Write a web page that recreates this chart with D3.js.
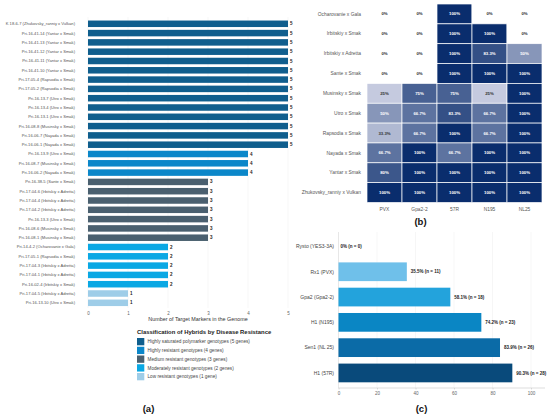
<!DOCTYPE html>
<html>
<head>
<meta charset="utf-8">
<script src="https://cdn.jsdelivr.net/npm/d3@7"></script>
<style>
  body { margin: 0; background: #fff; }
  text { font-family: "Liberation Sans", Arial, sans-serif; }
</style>
</head>
<body>
<div id="container"></div>
<script>
let w = 550;
let h = 417;

// ---- panel (a) data: hybrids and number of target markers
let hybrids = [
  "K 18-6-7 (Zhukovsky_ranniy x Vulkan)",
  "Pri-16-41-14 (Yantar x Smak)",
  "Pri-16-41-13 (Yantar x Smak)",
  "Pri-16-41-12 (Yantar x Smak)",
  "Pri-16-41-11 (Yantar x Smak)",
  "Pri-16-41-10 (Yantar x Smak)",
  "Pri-17-05-4 (Rapsodia x Smak)",
  "Pri-17-05-2 (Rapsodia x Smak)",
  "Pri-16-13-7 (Utro x Smak)",
  "Pri-16-13-4 (Utro x Smak)",
  "Pri-16-13-1 (Utro x Smak)",
  "Pri-16-08-8 (Musinsky x Smak)",
  "Pri-16-06-7 (Nayada x Smak)",
  "Pri-16-06-1 (Nayada x Smak)",
  "Pri-16-13-9 (Utro x Smak)",
  "Pri-16-08-7 (Musinsky x Smak)",
  "Pri-16-06-2 (Nayada x Smak)",
  "Pri-16-38-5 (Sante x Smak)",
  "Pri-17-04-6 (Irbitskiy x Adretta)",
  "Pri-17-04-4 (Irbitskiy x Adretta)",
  "Pri-17-04-2 (Irbitskiy x Adretta)",
  "Pri-16-13-3 (Utro x Smak)",
  "Pri-16-08-6 (Musinsky x Smak)",
  "Pri-16-08-1 (Musinsky x Smak)",
  "Pri-14-4-2 (Ocharovanie x Gala)",
  "Pri-17-05-1 (Rapsodia x Smak)",
  "Pri-17-04-3 (Irbitskiy x Adretta)",
  "Pri-17-04-1 (Irbitskiy x Adretta)",
  "Pri-16-02-4 (Irbitskiy x Smak)",
  "Pri-17-04-5 (Irbitskiy x Adretta)",
  "Pri-16-13-10 (Utro x Smak)"
];
let markerCounts = [5,5,5,5,5,5,5,5,5,5,5,5,5,5,4,4,4,3,3,3,3,3,3,3,2,2,2,2,2,1,1];

let countTicks = [0, 1, 2, 3, 4, 5];

let legendValues = [5, 4, 3, 2, 1];
let legendLabels = [
  "Highly saturated polymarker genotypes (5 genes)",
  "Highly resistant genotypes (4 genes)",
  "Medium resistant genotypes (3 genes)",
  "Moderately resistant genotypes (2 genes)",
  "Low resistant genotypes (1 gene)"
];

// ---- panel (b) data: share of hybrids carrying each marker, per combination
let combinations = [
  "Ocharovanie x Gala",
  "Irbitskiy x Smak",
  "Irbitskiy x Adretta",
  "Sante x Smak",
  "Musinsky x Smak",
  "Utro x Smak",
  "Rapsodia x Smak",
  "Nayada x Smak",
  "Yantar x Smak",
  "Zhukovsky_ranniy x Vulkan"
];
let markers = ["PVX", "Gpa2-2", "57R", "N195", "NL25"];
let pvxShare   = [0, 0, 0, 0, 25, 50, 33.3, 66.7, 80, 100];
let gpa2Share  = [0, 0, 0, 0, 75, 66.7, 66.7, 100, 100, 100];
let r57Share   = [100, 100, 100, 100, 75, 83.3, 100, 66.7, 100, 100];
let n195Share  = [0, 100, 83.3, 100, 25, 66.7, 66.7, 100, 100, 100];
let nl25Share  = [0, 0, 50, 100, 100, 100, 100, 100, 100, 100];

// ---- panel (c) data: frequency of each gene among hybrids
let genes = ["Rysto (YES3-3A)", "Rx1 (PVX)", "Gpa2 (Gpa2-2)", "H1 (N195)", "Sen1 (NL 25)", "H1 (57R)"];
let genePercent = [0, 35.5, 58.1, 74.2, 83.9, 90.3];
let geneCount = [0, 11, 18, 23, 26, 28];
let percentTicks = [0, 20, 40, 60, 80, 100];

let viz = d3.select("#container")
  .append("svg")
    .attr("width", w)
    .attr("height", h)
    .style("background-color", "white");

// =================== panel (a) ===================
let countColor = d3.scaleOrdinal()
  .domain([5, 4, 3, 2, 1])
  .range(["#0f5e8d", "#0b87c9", "#4a606f", "#0aa8e4", "#9ecde8"]);

let xA = d3.scaleLinear().domain([0, 5]).range([88, 288]);
let yA = d3.scaleBand().domain(hybrids).range([19.6, 307]).paddingInner(0.3).paddingOuter(0.1);

let dataA = hybrids.map(function(d, i){
  return {name: d, value: markerCounts[i]};
});

let gA = viz.append("g").attr("class", "panelA");

gA.selectAll(".gridA").data(countTicks).enter()
  .append("line")
    .attr("x1", function(d){ return xA(d); })
    .attr("x2", function(d){ return xA(d); })
    .attr("y1", 17)
    .attr("y2", 308)
    .attr("stroke", "#ececec")
    .attr("stroke-width", 0.5);

gA.selectAll(".barA").data(dataA).enter()
  .append("rect")
    .attr("x", xA(0))
    .attr("y", function(d){ return yA(d.name); })
    .attr("width", function(d){ return xA(d.value) - xA(0); })
    .attr("height", yA.bandwidth())
    .attr("fill", function(d){ return countColor(d.value); });

gA.selectAll(".valA").data(dataA).enter()
  .append("text")
    .text(function(d){ return d.value; })
    .attr("x", function(d){ return xA(d.value) + 2; })
    .attr("y", function(d){ return yA(d.name) + yA.bandwidth() / 2; })
    .attr("dy", "0.35em")
    .attr("font-size", 4.5)
    .attr("font-weight", "bold")
    .attr("fill", "#222");

gA.selectAll(".labA").data(dataA).enter()
  .append("text")
    .text(function(d){ return d.name; })
    .attr("x", 75)
    .attr("y", function(d){ return yA(d.name) + yA.bandwidth() / 2; })
    .attr("dy", "0.35em")
    .attr("text-anchor", "end")
    .attr("font-size", 4.1)
    .attr("fill", "#555");

let xAxisA = d3.axisBottom(xA).tickValues(countTicks).tickFormat(d3.format("d")).tickSize(0).tickPadding(3);
let xAxisGroupA = gA.append("g").attr("transform", "translate(0, 309)").call(xAxisA);
xAxisGroupA.select(".domain").remove();
xAxisGroupA.selectAll("text").attr("font-size", 4.5).attr("fill", "#666").attr("font-family", "Liberation Sans, Arial, sans-serif");

gA.append("text")
  .text("Number of Target Markers in the Genome")
  .attr("x", 198)
  .attr("y", 321)
  .attr("text-anchor", "middle")
  .attr("font-size", 5.4)
  .attr("fill", "#333");

// legend
gA.append("text")
  .text("Classification of Hybrids by Disease Resistance")
  .attr("x", 137)
  .attr("y", 334.3)
  .attr("font-size", 5.9)
  .attr("font-weight", "bold")
  .attr("fill", "#222");

let legend = gA.selectAll(".legendA").data(legendValues).enter()
  .append("g")
    .attr("transform", function(d, i){ return "translate(137, " + (338 + i * 8.75) + ")"; });

legend.append("rect")
  .attr("width", 7.3)
  .attr("height", 7.3)
  .attr("fill", function(d){ return countColor(d); });

legend.append("text")
  .text(function(d, i){ return legendLabels[i]; })
  .attr("x", 10.5)
  .attr("y", 3.7)
  .attr("dy", "0.35em")
  .attr("font-size", 4.7)
  .attr("fill", "#444");

// =================== panel (b) ===================
let shareColumns = [pvxShare, gpa2Share, r57Share, n195Share, nl25Share];
let dataB = [];
combinations.forEach(function(c, i){
  markers.forEach(function(m, j){
    dataB.push({row: c, col: m, value: shareColumns[j][i]});
  });
});

let xB = d3.scaleBand().domain(markers).range([367, 542]);
let yB = d3.scaleBand().domain(combinations).range([4, 202.5]);
let heat = d3.scaleLinear().domain([25, 100]).range(["#c5cadf", "#0a2d6d"]).interpolate(d3.interpolateRgb);

function fmtPct(v){
  return (Math.round(v * 10) / 10) + "%";
}

let gB = viz.append("g").attr("class", "panelB");

gB.selectAll(".cell").data(dataB).enter()
  .append("rect")
    .attr("x", function(d){ return xB(d.col); })
    .attr("y", function(d){ return yB(d.row); })
    .attr("width", xB.bandwidth())
    .attr("height", yB.bandwidth())
    .attr("fill", function(d){ return d.value == 0 ? "#ffffff" : heat(d.value); })
    .attr("stroke", "#ffffff")
    .attr("stroke-width", 0.7);

gB.selectAll(".cellText").data(dataB).enter()
  .append("text")
    .text(function(d){ return fmtPct(d.value); })
    .attr("x", function(d){ return xB(d.col) + xB.bandwidth() / 2; })
    .attr("y", function(d){ return yB(d.row) + yB.bandwidth() / 2; })
    .attr("dy", "0.35em")
    .attr("text-anchor", "middle")
    .attr("font-size", 4.3)
    .attr("font-weight", "bold")
    .attr("fill", function(d){
      if(d.value < 40){
        return "#333";
      }else{
        return "#ffffff";
      }
    });

gB.selectAll(".rowLab").data(combinations).enter()
  .append("text")
    .text(function(d){ return d; })
    .attr("x", 361)
    .attr("y", function(d){ return yB(d) + yB.bandwidth() / 2; })
    .attr("dy", "0.35em")
    .attr("text-anchor", "end")
    .attr("font-size", 4.9)
    .attr("fill", "#555");

gB.selectAll(".colLab").data(markers).enter()
  .append("text")
    .text(function(d){ return d; })
    .attr("x", function(d){ return xB(d) + xB.bandwidth() / 2; })
    .attr("y", 209)
    .attr("dy", "0.35em")
    .attr("text-anchor", "middle")
    .attr("font-size", 4.9)
    .attr("fill", "#555");

// =================== panel (c) ===================
let dataC = genes.map(function(g, i){
  return {name: g, pct: genePercent[i], n: geneCount[i]};
});

let xC = d3.scaleLinear().domain([0, 100]).range([338.5, 531]);
let yC = d3.scaleBand().domain(genes).range([233.8, 385.6]).paddingInner(0.26).paddingOuter(0.13);
let geneColor = d3.scaleOrdinal().domain(genes)
  .range(["#d6ecf8", "#6fc0ea", "#23a3dc", "#0a86c4", "#0b6ba7", "#094a7b"]);

let gC = viz.append("g").attr("class", "panelC");

gC.selectAll(".gridC").data(percentTicks).enter()
  .append("line")
    .attr("x1", function(d){ return xC(d); })
    .attr("x2", function(d){ return xC(d); })
    .attr("y1", 232)
    .attr("y2", 388)
    .attr("stroke", function(d){ return d == 0 ? "#cfcfcf" : "#ececec"; })
    .attr("stroke-width", 0.5);

gC.selectAll(".barC").data(dataC).enter()
  .append("rect")
    .attr("x", xC(0))
    .attr("y", function(d){ return yC(d.name); })
    .attr("width", function(d){ return xC(d.pct) - xC(0); })
    .attr("height", yC.bandwidth())
    .attr("fill", function(d){ return geneColor(d.name); });

gC.selectAll(".valC").data(dataC).enter()
  .append("text")
    .text(function(d){ return d.pct + "% (n = " + d.n + ")"; })
    .attr("x", function(d){ return xC(d.pct) + (d.pct == 0 ? 2 : 4); })
    .attr("y", function(d){ return yC(d.name) + yC.bandwidth() / 2; })
    .attr("dy", "0.35em")
    .attr("font-size", 4.5)
    .attr("font-weight", "bold")
    .attr("fill", "#222");

gC.selectAll(".labC").data(dataC).enter()
  .append("text")
    .text(function(d){ return d.name; })
    .attr("x", 334)
    .attr("y", function(d){ return yC(d.name) + yC.bandwidth() / 2; })
    .attr("dy", "0.35em")
    .attr("text-anchor", "end")
    .attr("font-size", 5)
    .attr("fill", "#444");

let xAxisC = d3.axisBottom(xC).tickValues(percentTicks).tickFormat(d3.format("d")).tickSize(1.5).tickPadding(2.5).tickSizeOuter(0);
let xAxisGroupC = gC.append("g").attr("transform", "translate(0, 388)").call(xAxisC);
xAxisGroupC.select(".domain").attr("stroke", "#bbb").attr("stroke-width", 0.5)
  .attr("d", "M" + xC(0) + ",0H545");
xAxisGroupC.selectAll(".tick line").attr("stroke", "#bbb").attr("stroke-width", 0.5);
xAxisGroupC.selectAll("text").attr("font-size", 4.5).attr("fill", "#666").attr("font-family", "Liberation Sans, Arial, sans-serif");

// =================== panel tags ===================
let tags = [
  {t: "(a)", x: 148.5, y: 409},
  {t: "(b)", x: 420.5, y: 222},
  {t: "(c)", x: 421.5, y: 409}
];
viz.selectAll(".tag").data(tags).enter()
  .append("text")
    .text(function(d){ return d.t; })
    .attr("x", function(d){ return d.x; })
    .attr("y", function(d){ return d.y; })
    .attr("dy", "0.35em")
    .attr("text-anchor", "middle")
    .attr("font-family", "Liberation Serif, Times New Roman, serif")
    .attr("font-weight", "bold")
    .attr("font-size", 9.5)
    .attr("fill", "#111");
</script>
</body>
</html>
